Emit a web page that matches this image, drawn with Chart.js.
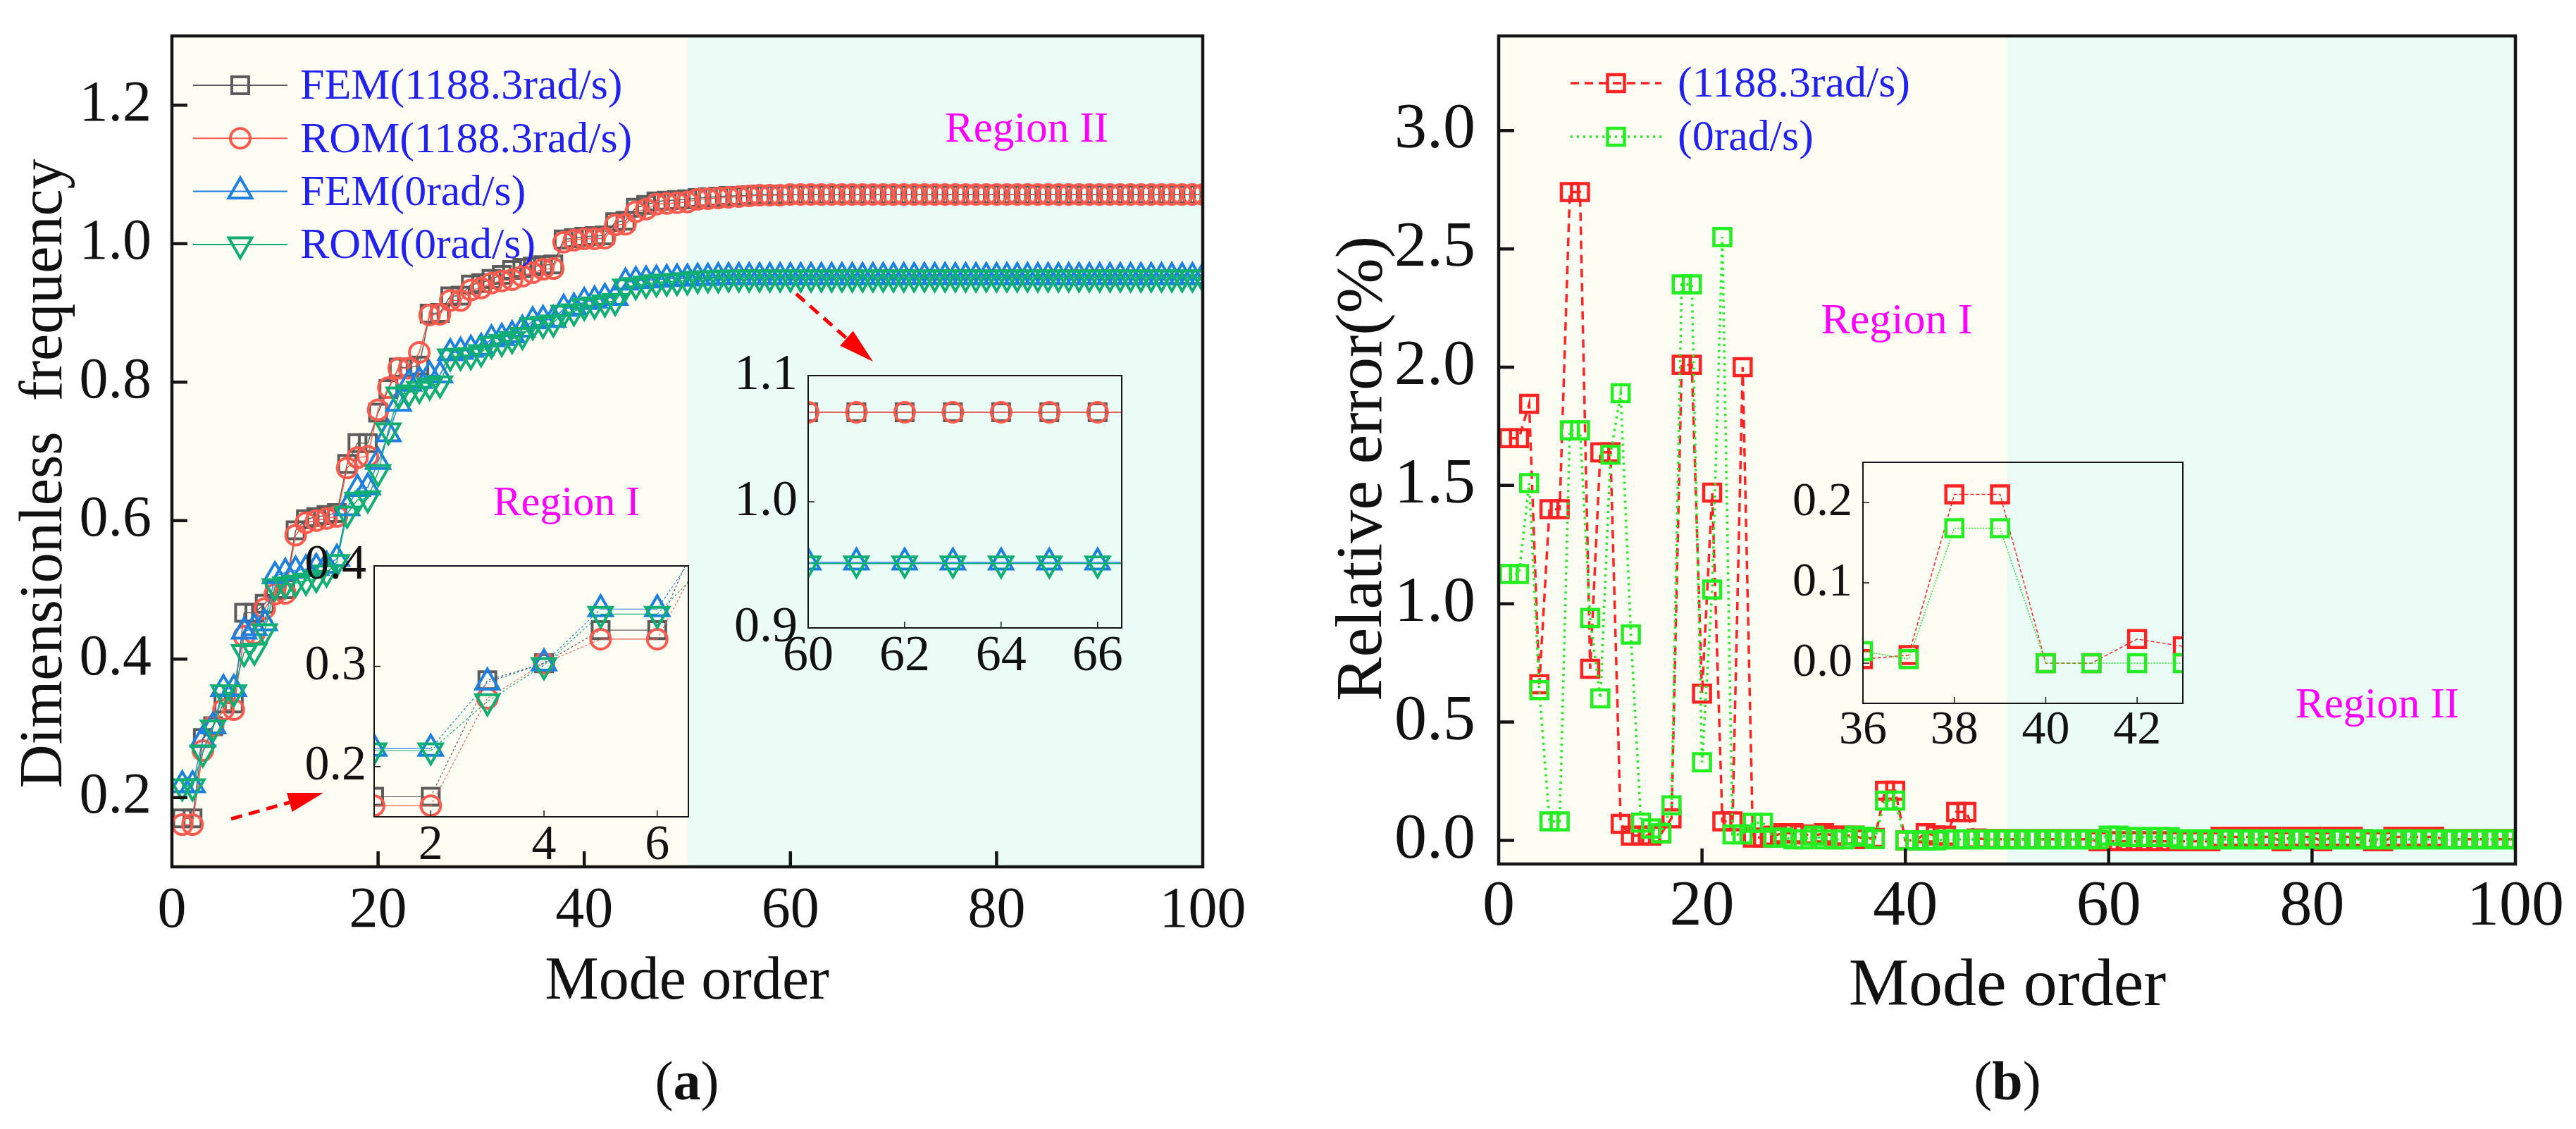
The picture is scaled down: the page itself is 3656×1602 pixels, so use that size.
<!DOCTYPE html>
<html>
<head>
<meta charset="utf-8">
<title>Dimensionless frequency and relative error by mode order</title>
<script src="https://cdn.jsdelivr.net/npm/chart.js@4.4.0/dist/chart.umd.min.js"></script>
<style>
  html, body { margin: 0; padding: 0; background: #fff; }
  #wrap { position: relative; width: 3656px; height: 1602px; overflow: hidden; background: #fff; }
  #wrap canvas { position: absolute; left: 0; top: 0; }
</style>
</head>
<body>
<div id="wrap">
  <canvas id="mainA" width="3656" height="1602"></canvas>
  <canvas id="mainB" width="3656" height="1602"></canvas>
  <canvas id="insetA1" width="3656" height="1602"></canvas>
  <canvas id="insetA2" width="3656" height="1602"></canvas>
  <canvas id="insetB" width="3656" height="1602"></canvas>
</div>
<script>
// mode order 1..100
const modes = [
  1, 2, 3, 4, 5, 6, 7, 8, 9, 10, 11, 12, 13, 14, 15, 16, 17, 18, 19, 20,
  21, 22, 23, 24, 25, 26, 27, 28, 29, 30, 31, 32, 33, 34, 35, 36, 37, 38, 39, 40,
  41, 42, 43, 44, 45, 46, 47, 48, 49, 50, 51, 52, 53, 54, 55, 56, 57, 58, 59, 60,
  61, 62, 63, 64, 65, 66, 67, 68, 69, 70, 71, 72, 73, 74, 75, 76, 77, 78, 79, 80,
  81, 82, 83, 84, 85, 86, 87, 88, 89, 90, 91, 92, 93, 94, 95, 96, 97, 98, 99, 100
];

// (a) dimensionless frequency
const femFast = [
  0.170, 0.170, 0.286, 0.303, 0.336, 0.336, 0.467, 0.467, 0.480, 0.500,
  0.501, 0.586, 0.602, 0.605, 0.608, 0.611, 0.682, 0.712, 0.712, 0.756,
  0.790, 0.821, 0.821, 0.824, 0.899, 0.900, 0.924, 0.925, 0.941, 0.943,
  0.949, 0.955, 0.962, 0.965, 0.967, 0.969, 0.970, 1.006, 1.008, 1.010,
  1.011, 1.012, 1.031, 1.033, 1.052, 1.056, 1.061, 1.062, 1.063, 1.064,
  1.066, 1.067, 1.068, 1.069, 1.069, 1.070, 1.071, 1.071, 1.071, 1.071,
  1.071, 1.071, 1.071, 1.071, 1.071, 1.071, 1.071, 1.071, 1.071, 1.071,
  1.071, 1.071, 1.071, 1.071, 1.071, 1.071, 1.071, 1.071, 1.071, 1.071,
  1.071, 1.071, 1.071, 1.071, 1.071, 1.071, 1.071, 1.071, 1.071, 1.071,
  1.071, 1.071, 1.071, 1.071, 1.071, 1.071, 1.071, 1.071, 1.071, 1.071
];
const romFast = [
  0.161, 0.161, 0.268, 0.303, 0.327, 0.327, 0.433, 0.437, 0.473, 0.494,
  0.495, 0.579, 0.597, 0.600, 0.603, 0.606, 0.676, 0.691, 0.693, 0.760,
  0.792, 0.820, 0.820, 0.843, 0.897, 0.898, 0.918, 0.918, 0.933, 0.936,
  0.943, 0.946, 0.948, 0.953, 0.958, 0.963, 0.964, 1.002, 1.005, 1.007,
  1.007, 1.008, 1.027, 1.028, 1.046, 1.050, 1.057, 1.058, 1.059, 1.060,
  1.064, 1.065, 1.066, 1.067, 1.068, 1.069, 1.070, 1.070, 1.070, 1.071,
  1.071, 1.071, 1.071, 1.071, 1.071, 1.071, 1.071, 1.071, 1.071, 1.071,
  1.071, 1.071, 1.071, 1.071, 1.071, 1.071, 1.071, 1.071, 1.071, 1.071,
  1.071, 1.071, 1.071, 1.071, 1.071, 1.071, 1.071, 1.071, 1.071, 1.071,
  1.071, 1.071, 1.071, 1.071, 1.071, 1.071, 1.071, 1.071, 1.071, 1.071
];
const femRest = [
  0.218, 0.218, 0.284, 0.303, 0.357, 0.357, 0.440, 0.445, 0.452, 0.520,
  0.525, 0.528, 0.530, 0.532, 0.535, 0.545, 0.618, 0.646, 0.648, 0.685,
  0.725, 0.769, 0.798, 0.802, 0.810, 0.810, 0.842, 0.844, 0.847, 0.850,
  0.862, 0.864, 0.868, 0.876, 0.888, 0.890, 0.890, 0.906, 0.908, 0.916,
  0.918, 0.922, 0.922, 0.944, 0.946, 0.947, 0.948, 0.949, 0.950, 0.950,
  0.951, 0.951, 0.952, 0.952, 0.952, 0.952, 0.952, 0.952, 0.952, 0.952,
  0.952, 0.952, 0.952, 0.952, 0.952, 0.952, 0.952, 0.952, 0.952, 0.952,
  0.952, 0.952, 0.952, 0.952, 0.952, 0.952, 0.952, 0.952, 0.952, 0.952,
  0.952, 0.952, 0.952, 0.952, 0.952, 0.952, 0.952, 0.952, 0.952, 0.952,
  0.952, 0.952, 0.952, 0.952, 0.952, 0.952, 0.952, 0.952, 0.952, 0.952
];
const romRest = [
  0.216, 0.216, 0.265, 0.301, 0.352, 0.352, 0.410, 0.412, 0.440, 0.505,
  0.508, 0.510, 0.513, 0.517, 0.525, 0.540, 0.610, 0.630, 0.632, 0.670,
  0.730, 0.782, 0.785, 0.790, 0.795, 0.798, 0.837, 0.838, 0.839, 0.843,
  0.855, 0.858, 0.862, 0.868, 0.882, 0.884, 0.886, 0.900, 0.902, 0.910,
  0.912, 0.915, 0.917, 0.938, 0.940, 0.942, 0.944, 0.945, 0.946, 0.947,
  0.949, 0.950, 0.950, 0.951, 0.951, 0.951, 0.951, 0.951, 0.951, 0.951,
  0.951, 0.951, 0.951, 0.951, 0.951, 0.951, 0.951, 0.951, 0.951, 0.951,
  0.951, 0.951, 0.951, 0.951, 0.951, 0.951, 0.951, 0.951, 0.951, 0.951,
  0.951, 0.951, 0.951, 0.951, 0.951, 0.951, 0.951, 0.951, 0.951, 0.951,
  0.951, 0.951, 0.951, 0.951, 0.951, 0.951, 0.951, 0.951, 0.951, 0.951
];

// (b) relative error (%)
const errFast = [
  1.70, 1.70, 1.845, 0.66, 1.40, 1.40, 2.74, 2.74, 0.725, 1.64,
  1.64, 0.07, 0.02, 0.02, 0.02, 0.03, 0.093, 2.01, 2.01, 0.62,
  1.47, 0.08, 0.08, 2.00, 0.012, 0.012, 0.02, 0.03, 0.03, 0.025,
  0.02, 0.03, 0.02, 0.02, 0.02, 0.005, 0.01, 0.21, 0.21, 0.0,
  0.0, 0.03, 0.021, 0.02, 0.12, 0.12, 0.008, 0.005, 0.005, 0.005,
  0.005, 0.005, 0.005, 0.005, 0.005, 0.005, 0.005, 0.005, -0.004, -0.004,
  -0.004, -0.004, -0.004, -0.004, -0.004, -0.004, -0.004, -0.004, -0.004, -0.004,
  0.015, 0.015, 0.015, 0.015, 0.015, 0.015, -0.004, 0.015, 0.015, 0.015,
  -0.004, 0.015, 0.015, 0.015, 0.005, -0.004, -0.004, 0.015, 0.015, 0.015,
  0.015, 0.015, 0.005, 0.005, 0.005, 0.005, 0.005, 0.005, 0.005, 0.005
];
const errRest = [
  1.126, 1.126, 1.51, 0.635, 0.08, 0.08, 1.733, 1.733, 0.94, 0.60,
  1.63, 1.89, 0.87, 0.075, 0.05, 0.03, 0.148, 2.35, 2.35, 0.33,
  1.06, 2.55, 0.025, 0.025, 0.074, 0.074, 0.012, 0.012, 0.004, 0.004,
  0.02, 0.004, 0.004, 0.004, 0.02, 0.015, 0.005, 0.168, 0.168, 0.0,
  0.0, 0.0, 0.0, 0.004, 0.004, 0.004, 0.004, 0.004, 0.004, 0.004,
  0.004, 0.004, 0.004, 0.004, 0.004, 0.004, 0.004, 0.004, 0.004, 0.02,
  0.02, 0.014, 0.014, 0.014, 0.014, 0.014, 0.004, 0.004, 0.004, 0.004,
  0.004, 0.004, 0.004, 0.004, 0.004, 0.004, 0.004, 0.004, 0.004, 0.004,
  0.004, 0.004, 0.004, 0.004, 0.004, 0.004, 0.004, 0.004, 0.004, 0.004,
  0.004, 0.004, 0.004, 0.004, 0.004, 0.004, 0.004, 0.004, 0.004, 0.004
];

// tick labels
const modeTicks = [0, 20, 40, 60, 80, 100];
const freqTicks = [0.2, 0.4, 0.6, 0.8, 1.0, 1.2];
const errTicks = [0, 0.5, 1.0, 1.5, 2.0, 2.5, 3.0];
const insetA1XTicks = [2, 4, 6];
const insetA1YTicks = [0.2, 0.3, 0.4];
const insetA2XTicks = [60, 62, 64, 66];
const insetA2YTicks = [0.9, 1.0, 1.1];
const insetBXTicks = [36, 38, 40, 42];
const insetBYTicks = [0.0, 0.1, 0.2];
const regionSplit = 50;

const W = 3656, H = 1602;
const serif = "'Liberation Serif', 'Times New Roman', 'DejaVu Serif', serif";
const colGray = '#5c5c5c', colRed = '#ff5a4e', colBlue = '#1c80e0', colGreen = '#0fae72';
const colErrRed = '#ff2323', colErrGreen = '#22ee22';
const bgRegion1 = '#fefdf3', bgRegion2 = '#ebfcf7';
const legendBlue = '#2222f0', regionPink = '#ff00ff';

function pts(vals) {
  return modes.map((m, i) => ({ x: m, y: vals[i] }));
}

function zeroPad(s) {
  s.paddingTop = 0; s.paddingBottom = 0; s.paddingLeft = 0; s.paddingRight = 0;
}

function freqSets(lw, extra) {
  return [
    { label: 'FEM(1188.3rad/s)', data: pts(femFast), borderColor: colGray, pointStyle: 'rect', pointRadius: 17, order: 3 },
    { label: 'ROM(1188.3rad/s)', data: pts(romFast), borderColor: colRed, pointStyle: 'circle', pointRadius: 14, order: 2 },
    { label: 'FEM(0rad/s)', data: pts(femRest), borderColor: colBlue, pointStyle: 'triangle', pointRadius: 19, order: 1 },
    { label: 'ROM(0rad/s)', data: pts(romRest), borderColor: colGreen, pointStyle: 'triangle', pointRotation: 180, pointRadius: 19, order: 0 }
  ].map(d => Object.assign(d, {
    borderWidth: lw, pointBorderWidth: 4, backgroundColor: 'rgba(0,0,0,0)',
    pointBackgroundColor: 'rgba(0,0,0,0)', fill: false, tension: 0, clip: 0
  }, extra || {}));
}

function errSets(lw, dashRed, dashGreen) {
  return [
    { label: '(1188.3rad/s)', data: pts(errFast), borderColor: colErrRed, borderDash: dashRed, order: 1 },
    { label: '(0rad/s)', data: pts(errRest), borderColor: colErrGreen, borderDash: dashGreen, order: 0 }
  ].map(d => Object.assign(d, {
    borderWidth: lw, pointStyle: 'rect', pointRadius: 17, pointBorderWidth: 4.5,
    backgroundColor: 'rgba(0,0,0,0)', pointBackgroundColor: 'rgba(0,0,0,0)',
    fill: false, tension: 0, clip: 0
  }));
}

function text(ctx, str, x, y, o) {
  ctx.save();
  ctx.font = (o.weight || 'normal') + ' ' + o.size + 'px ' + serif;
  ctx.fillStyle = o.color || '#111';
  ctx.textAlign = o.align || 'center';
  ctx.textBaseline = o.baseline || 'middle';
  ctx.translate(x, y);
  if (o.rotate) ctx.rotate(o.rotate);
  ctx.fillText(str, 0, 0);
  ctx.restore();
}

function panelLabel(ctx, letter, cx, cy, size) {
  ctx.save();
  const reg = size + 'px ' + serif, bold = 'bold ' + size + 'px ' + serif;
  ctx.font = reg;
  const wp = ctx.measureText('(').width, wq = ctx.measureText(')').width;
  ctx.font = bold;
  const wl = ctx.measureText(letter).width;
  let x = cx - (wp + wl + wq) / 2;
  ctx.textBaseline = 'middle'; ctx.textAlign = 'left'; ctx.fillStyle = '#111';
  ctx.font = reg; ctx.fillText('(', x, cy); x += wp;
  ctx.font = bold; ctx.fillText(letter, x, cy); x += wl;
  ctx.font = reg; ctx.fillText(')', x, cy);
  ctx.restore();
}

function marker(ctx, d, x, y) {
  const opts = { pointStyle: d.pointStyle, radius: d.pointRadius, rotation: d.pointRotation || 0, borderWidth: d.pointBorderWidth };
  ctx.lineWidth = d.pointBorderWidth;
  ctx.strokeStyle = d.borderColor;
  ctx.fillStyle = 'rgba(0,0,0,0)';
  Chart.helpers.drawPoint(ctx, opts, x, y);
}

function legend(ctx, sets, o) {
  sets.forEach((d, i) => {
    const y = o.top + i * o.step;
    ctx.save();
    ctx.strokeStyle = d.borderColor;
    ctx.lineWidth = o.lw;
    ctx.setLineDash(d.borderDash || []);
    ctx.beginPath(); ctx.moveTo(o.x0, y); ctx.lineTo(o.x1, y); ctx.stroke();
    ctx.setLineDash([]);
    marker(ctx, d, (o.x0 + o.x1) / 2, y);
    ctx.restore();
    text(ctx, d.label, o.tx, y + 3, { size: o.size, color: legendBlue, align: 'left' });
  });
}

function arrow(ctx, x0, y0, x1, y1) {
  const ang = Math.atan2(y1 - y0, x1 - x0), L = 50, hw = 14;
  const bx = x1 - L * Math.cos(ang), by = y1 - L * Math.sin(ang);
  ctx.save();
  ctx.strokeStyle = '#ff0000'; ctx.fillStyle = '#ff0000';
  ctx.lineWidth = 5; ctx.setLineDash([16, 10]);
  ctx.beginPath(); ctx.moveTo(x0, y0); ctx.lineTo(bx, by); ctx.stroke();
  ctx.setLineDash([]);
  ctx.beginPath();
  ctx.moveTo(x1, y1);
  ctx.lineTo(bx + hw * Math.sin(ang), by - hw * Math.cos(ang));
  ctx.lineTo(bx - hw * Math.sin(ang), by + hw * Math.cos(ang));
  ctx.closePath(); ctx.fill();
  ctx.restore();
}

function framePlugin(c) {
  return {
    id: 'frame',
    beforeDatasetsDraw(chart) {
      if (!c.regions) return;
      const { ctx, chartArea: a, scales: { x } } = chart;
      const split = x.getPixelForValue(regionSplit);
      ctx.save();
      ctx.fillStyle = bgRegion1;
      ctx.fillRect(a.left, a.top, split - a.left, a.bottom - a.top);
      ctx.fillStyle = bgRegion2;
      ctx.fillRect(split, a.top, a.right - split, a.bottom - a.top);
      ctx.restore();
    },
    afterDatasetsDraw(chart) {
      const { ctx, chartArea: a, scales: { x, y } } = chart;
      ctx.save();
      ctx.strokeStyle = '#151515';
      ctx.lineWidth = c.tickW;
      ctx.beginPath();
      x.ticks.forEach(t => {
        const p = x.getPixelForValue(t.value);
        if (p > a.left + 3 && p < a.right - 3) { ctx.moveTo(p, a.bottom); ctx.lineTo(p, a.bottom - c.tickLen); }
      });
      y.ticks.forEach(t => {
        const p = y.getPixelForValue(t.value);
        if (p > a.top + 3 && p < a.bottom - 3) { ctx.moveTo(a.left, p); ctx.lineTo(a.left + c.tickLen, p); }
      });
      ctx.stroke();
      ctx.lineWidth = c.frameW;
      ctx.strokeRect(a.left, a.top, a.right - a.left, a.bottom - a.top);
      ctx.restore();
      if (c.decorate) c.decorate(chart);
    }
  };
}

function makeChart(id, c) {
  const a = c.area;
  const tickFont = { family: serif, size: c.font, lineHeight: 1 };
  return new Chart(document.getElementById(id), {
    type: 'line',
    data: { datasets: c.datasets },
    options: {
      responsive: false,
      animation: false,
      devicePixelRatio: 1,
      events: [],
      layout: { padding: { left: a.left - c.yW, top: a.top, right: W - a.right, bottom: H - a.bottom - c.xH } },
      plugins: { legend: { display: false }, tooltip: { enabled: false } },
      scales: {
        x: {
          type: 'linear', bounds: 'data', min: c.xMin, max: c.xMax,
          grid: { display: false, drawTicks: false }, border: { display: false },
          afterBuildTicks: s => { s.ticks = c.xTicks.map(v => ({ value: v })); },
          afterFit: s => { s.height = c.xH; zeroPad(s); },
          ticks: { autoSkip: false, maxRotation: 0, padding: c.xPad, color: '#111', font: tickFont, callback: v => String(v) }
        },
        y: {
          type: 'linear', bounds: 'data', min: c.yMin, max: c.yMax,
          grid: { display: false, drawTicks: false }, border: { display: false },
          afterBuildTicks: s => { s.ticks = c.yTicks.map(v => ({ value: v })); },
          afterFit: s => { s.width = c.yW; zeroPad(s); },
          ticks: { autoSkip: false, padding: c.yPad, color: '#111', font: tickFont, callback: v => v.toFixed(1) }
        }
      }
    },
    plugins: [framePlugin(c)]
  });
}

// (a) main panel
makeChart('mainA', {
  area: { left: 244, top: 51, right: 1707, bottom: 1230 },
  yW: 200, xH: 150, font: 82, xPad: 22, yPad: 29,
  xMin: 0, xMax: 100, yMin: 0.1, yMax: 1.3,
  xTicks: modeTicks, yTicks: freqTicks,
  tickLen: 22, tickW: 4.5, frameW: 4.5, regions: true,
  datasets: freqSets(1.5),
  decorate(chart) {
    const ctx = chart.ctx;
    legend(ctx, chart.data.datasets, { x0: 274, x1: 408, top: 121, step: 75.3, lw: 2, tx: 426, size: 62 });
    text(ctx, 'Region I', 804, 731, { size: 60, color: regionPink, baseline: 'alphabetic' });
    text(ctx, 'Region II', 1457, 201, { size: 61, color: regionPink, baseline: 'alphabetic' });
    arrow(ctx, 328, 1162, 459, 1125);
    arrow(ctx, 1130, 417, 1239, 513);
    text(ctx, 'Mode order', 975, 1394, { size: 86 });
    text(ctx, 'Dimensionless  frequency', 64, 672, { size: 86, rotate: -Math.PI / 2 });
    panelLabel(ctx, 'a', 975, 1540, 78);
  }
});

// (b) main panel
makeChart('mainB', {
  area: { left: 2127, top: 51, right: 3570, bottom: 1226 },
  yW: 200, xH: 150, font: 92, xPad: 16, yPad: 33,
  xMin: 0, xMax: 100, yMin: -0.1, yMax: 3.4,
  xTicks: modeTicks, yTicks: errTicks,
  tickLen: 22, tickW: 4.5, frameW: 4.5, regions: true,
  datasets: errSets(3.5, [12, 8], [3, 6]),
  decorate(chart) {
    const ctx = chart.ctx;
    legend(ctx, chart.data.datasets, { x0: 2229, x1: 2358, top: 118, step: 76, lw: 3.5, tx: 2381, size: 62 });
    text(ctx, 'Region I', 2692, 473, { size: 62, color: regionPink, baseline: 'alphabetic' });
    text(ctx, 'Region II', 3374, 1018, { size: 61, color: regionPink, baseline: 'alphabetic' });
    text(ctx, 'Mode order', 2849, 1401, { size: 96 });
    text(ctx, 'Relative error(%)', 1935, 665, { size: 94, rotate: -Math.PI / 2 });
    panelLabel(ctx, 'b', 2849, 1540, 78);
  }
});

// inset: first modes of (a)
makeChart('insetA1', {
  area: { left: 531, top: 803, right: 977, bottom: 1159 },
  yW: 110, xH: 90, font: 70, xPad: 7, yPad: 11,
  xMin: 1, xMax: 6.55, yMin: 0.15, yMax: 0.4,
  xTicks: insetA1XTicks, yTicks: insetA1YTicks,
  tickLen: 9, tickW: 1.5, frameW: 2,
  datasets: freqSets(1.2, {
    segment: { borderDash: s => (s.p0.parsed.y === s.p1.parsed.y ? undefined : [3, 3]) }
  })
});

// inset: region II of (a)
makeChart('insetA2', {
  area: { left: 1147, top: 533, right: 1592, bottom: 891 },
  yW: 110, xH: 90, font: 72, xPad: 5, yPad: 15,
  xMin: 60, xMax: 66.5, yMin: 0.9, yMax: 1.1,
  xTicks: insetA2XTicks, yTicks: insetA2YTicks,
  tickLen: 9, tickW: 1.5, frameW: 2,
  datasets: freqSets(1.5)
});

// inset: modes 36-43 of (b)
makeChart('insetB', {
  area: { left: 2644, top: 656, right: 3098, bottom: 998 },
  yW: 110, xH: 90, font: 68, xPad: 5, yPad: 15,
  xMin: 36, xMax: 43, yMin: -0.05, yMax: 0.25,
  xTicks: insetBXTicks, yTicks: insetBYTicks,
  tickLen: 9, tickW: 1.5, frameW: 2,
  datasets: errSets(1.5, [5, 3], [2, 2])
});
</script>
</body>
</html>
